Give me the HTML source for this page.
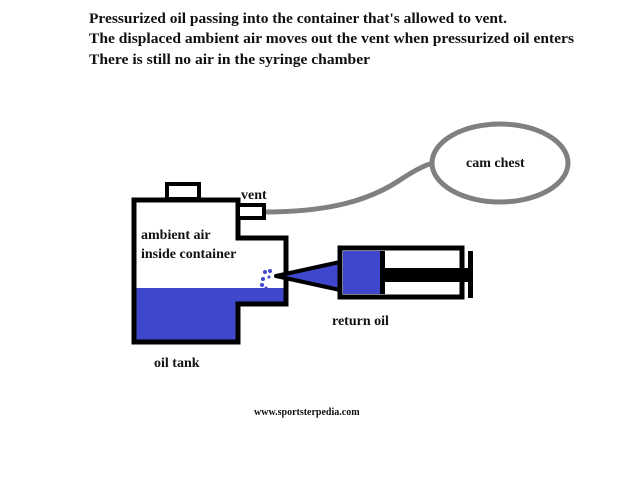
<!DOCTYPE html>
<html><head><style>html,body{margin:0;padding:0;background:#fff;width:640px;height:480px;overflow:hidden}</style></head>
<body>
<svg width="640" height="480" xmlns="http://www.w3.org/2000/svg" font-family="Liberation Serif, serif" font-weight="bold" fill="#111">
<text x="89" y="23" font-size="15" textLength="418" lengthAdjust="spacingAndGlyphs">Pressurized oil passing into the container that's allowed to vent.</text>
<text x="89" y="43" font-size="15" textLength="485" lengthAdjust="spacingAndGlyphs">The displaced ambient air moves out the vent when pressurized oil enters</text>
<text x="89" y="64" font-size="15" textLength="281" lengthAdjust="spacingAndGlyphs">There is still no air in the syringe chamber</text>
<!-- hose -->
<path d="M264 212 C330 212 370 200 400 180 C415 170 425 165 433 163" fill="none" stroke="#808080" stroke-width="5"/>
<ellipse cx="500" cy="163" rx="68" ry="39" fill="none" stroke="#808080" stroke-width="5"/>
<text x="466" y="167" font-size="14">cam chest</text>
<!-- oil fill -->
<path d="M134 288 H285 V303 H236 V341 H134 Z" fill="#3f48cc"/>
<!-- tank -->
<rect x="167" y="184" width="32" height="15" fill="none" stroke="#000" stroke-width="4"/>
<path d="M134 200 H238 V238 H286 V304 H238 V342 H134 Z" fill="none" stroke="#000" stroke-width="5"/>
<rect x="238" y="205" width="26" height="13" fill="#fff" stroke="#000" stroke-width="4"/>
<text x="241" y="199" font-size="14">vent</text>
<text x="141" y="239" font-size="14">ambient air</text>
<text x="141" y="258" font-size="14">inside container</text>
<!-- drops -->
<g fill="#3f48cc"><circle cx="265" cy="272" r="2"/><circle cx="270" cy="271" r="2"/><circle cx="263" cy="279" r="2"/><circle cx="269" cy="277" r="1.5"/><circle cx="262" cy="285" r="2"/><circle cx="266" cy="288" r="1.5"/></g>
<!-- syringe -->
<path d="M276 276 L340 262 L340 290 Z" fill="#3f48cc" stroke="#000" stroke-width="4" stroke-linejoin="round"/>
<rect x="340" y="248" width="122" height="49" fill="#fff" stroke="#000" stroke-width="5"/>
<rect x="343" y="251" width="38" height="43" fill="#3f48cc"/>
<rect x="380" y="251" width="5" height="43" fill="#000"/>
<rect x="383" y="268" width="86" height="14" fill="#000"/>
<rect x="468" y="251" width="5" height="47" fill="#000"/>
<text x="332" y="325" font-size="14">return oil</text>
<text x="154" y="367" font-size="14">oil tank</text>
<text x="254" y="415" font-size="10">www.sportsterpedia.com</text>
</svg>
</body></html>
